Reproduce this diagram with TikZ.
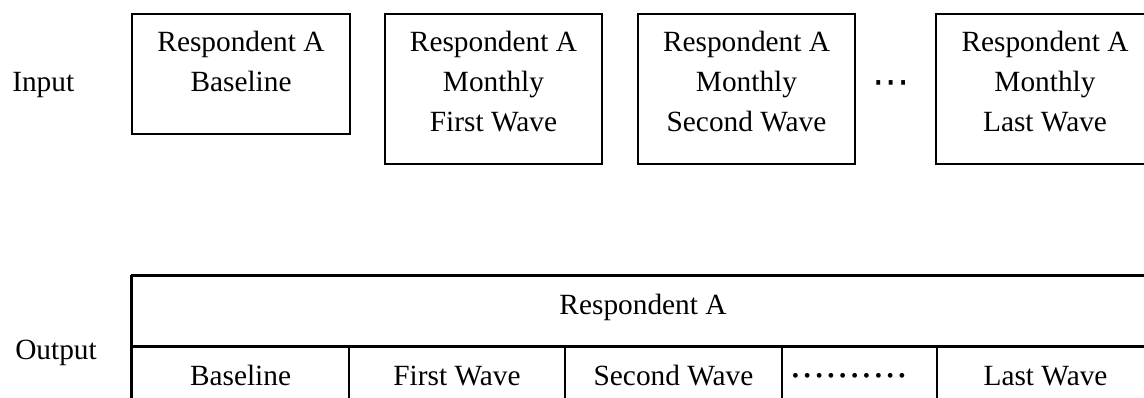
\documentclass[tikz,border=0pt]{standalone}
\usepackage{fontspec}
\setmainfont{Liberation Serif}
\newfontfamily\symfont{DejaVu Sans}
\usetikzlibrary{fit,calc}
% one evenly spaced centred dot of the dotted cell
\newcommand\celldot{\makebox[8.9pt]{\bfseries ·}}
\begin{document}
\begin{tikzpicture}[x=0.75pt,y=-0.75pt,
  font=\fontsize{22}{30}\selectfont,
  frame/.style={draw, line width=1.5pt, inner sep=0pt},
  label/.style={inner sep=0pt, align=center, anchor=north},
  side/.style={inner sep=0pt, anchor=base west},
  cell/.style={draw, line width=1.1pt, inner sep=0pt},
  celltext/.style={inner sep=0pt, anchor=base},
  rowline/.style={draw, line width=1.5pt}]
\path[use as bounding box, clip] (0,0) rectangle (1144,398);

% input records
\node[side] (inlab) at (12,92) {Input};
\node[frame, fit={(132,14) (350,134)}] (b1) {};
\node[frame, fit={(385,14) (602,164)}] (b2) {};
\node[frame, fit={(638,14) (855,164)}] (b3) {};
\node[frame, fit={(936,14) (1154,164)}] (b4) {};
\node[label] (t1) at ($(b1.north)+(0,18)$) {Respondent A\\Baseline};
\node[label] (t2) at ($(b2.north)+(0,18)$) {Respondent A\\Monthly\\First Wave};
\node[label] (t3) at ($(b3.north)+(0,18)$) {Respondent A\\Monthly\\Second Wave};
\node[label] (t4) at ($(b4.north)+(0,18)$) {Respondent A\\Monthly\\Last Wave};
\node[inner sep=0pt, anchor=base, font=\symfont\fontsize{28}{30}\selectfont] (gap) at (891,95) {⋯};

% output table
\node[side] (outlab) at (15,359) {Output};
\node[cell, fit={(132,276) (1154,346)}] (head) {};
\node[cell, fit={(132,346) (349,416)}] (c1) {};
\node[cell, fit={(349,346) (565,416)}] (c2) {};
\node[cell, fit={(565,346) (782,416)}] (c3) {};
\node[cell, fit={(782,346) (937,416)}] (c4) {};
\node[cell, fit={(937,346) (1154,416)}] (c5) {};
\draw[rowline] (head.north west) -- (head.north east);
\draw[rowline] (head.south west) -- (head.south east);
\draw[rowline] (head.north west) -- (c1.south west);

\node[celltext] (h0) at ($(head.center)+(0,4)$) {Respondent A};
\node[celltext] (h1) at ($(c1.center)+(0,4)$) {Baseline};
\node[celltext] (h2) at ($(c2.center)+(0,4)$) {First Wave};
\node[celltext] (h3) at ($(c3.center)+(0,4)$) {Second Wave};
\node[celltext, anchor=base west] (h4) at ($(c4.west)+(8,4)$) {\celldot\celldot\celldot\celldot\celldot\celldot\celldot\celldot\celldot\celldot};
\node[celltext] (h5) at ($(c5.center)+(0,4)$) {Last Wave};
\end{tikzpicture}
\end{document}
